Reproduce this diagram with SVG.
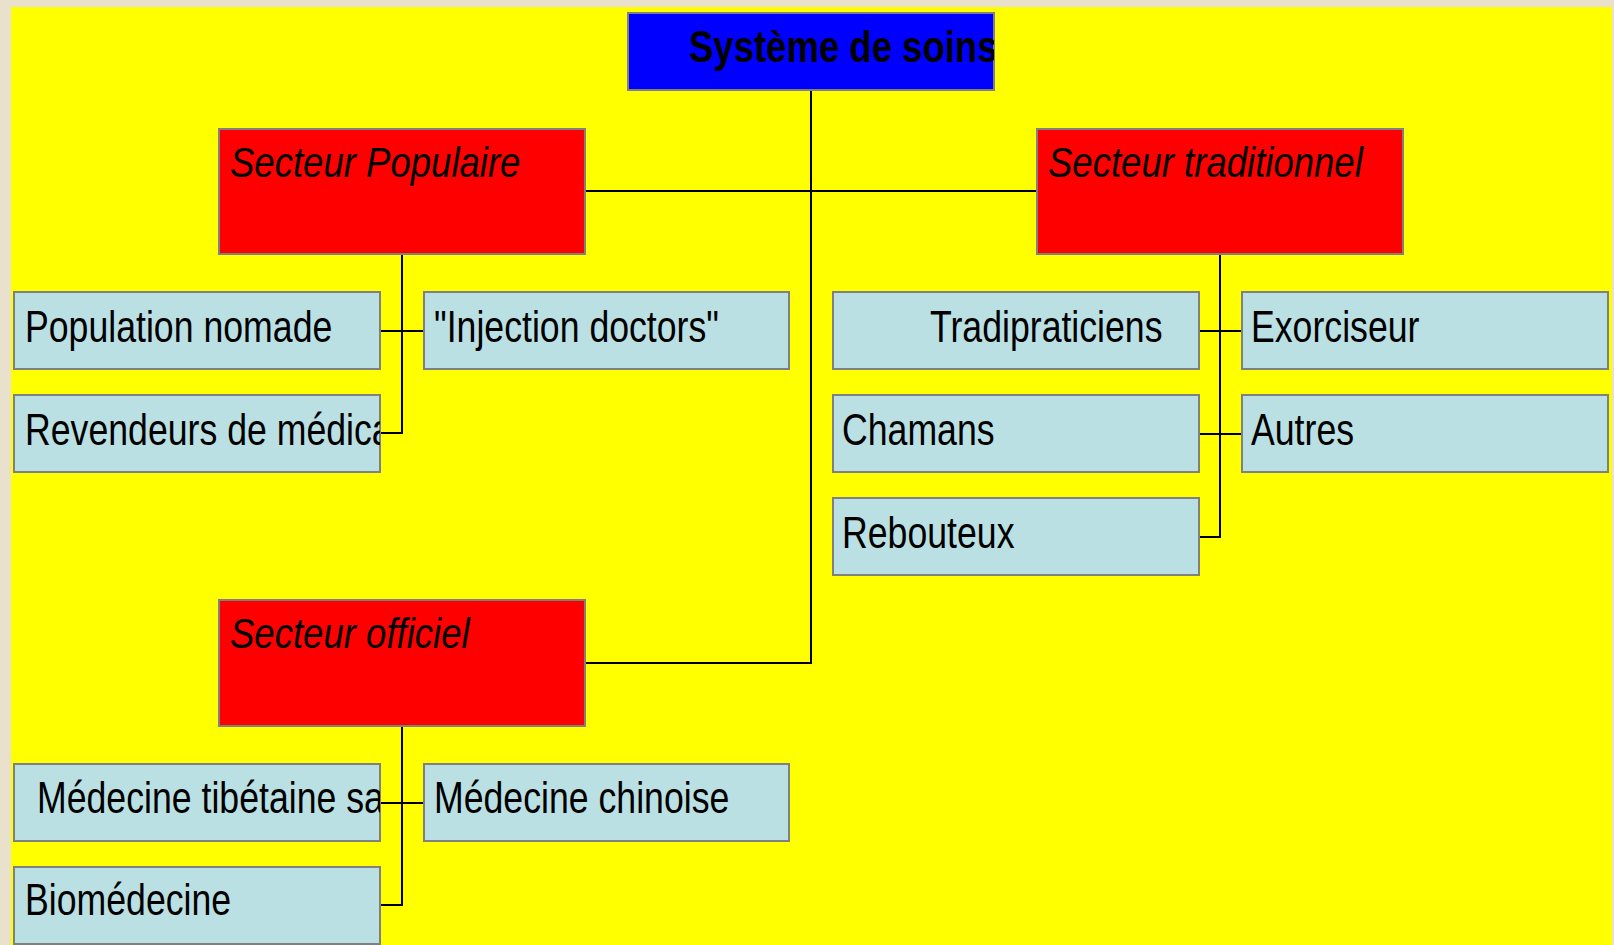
<svg xmlns="http://www.w3.org/2000/svg" width="1614" height="945" viewBox="0 0 1614 945">
<style>
.leaf{fill:#bae0e4;stroke:#808080;stroke-width:2}
.sect{fill:#ff0000;stroke:#808080;stroke-width:2}
.root{fill:#0000ff;stroke:#808080;stroke-width:2}
text{font-family:"Liberation Sans",Arial,sans-serif;fill:#000}
.lt{font-size:43.5px}
.st{font-size:43px;font-style:italic}
.rt{font-size:44px;font-weight:bold}
.con{stroke:#000;stroke-width:2;fill:none}
</style>
<defs>
<clipPath id="cRoot"><rect x="628" y="13" width="366" height="77"/></clipPath>
<clipPath id="cRev"><rect x="14" y="395" width="366" height="77"/></clipPath>
<clipPath id="cTib"><rect x="14" y="764" width="366" height="77"/></clipPath>
</defs>
<rect x="0" y="0" width="1614" height="945" fill="#e9e1cb"/>
<rect x="11" y="7" width="1601" height="938" fill="#ffff00"/>
<g id="connectors">
<polyline class="con" points="811,90 811,663 585,663"/>
<line class="con" x1="585" y1="191" x2="1037" y2="191"/>
<polyline class="con" points="402,254 402,433 380,433"/>
<line class="con" x1="380" y1="331" x2="424" y2="331"/>
<polyline class="con" points="1220,254 1220,537 1198,537"/>
<line class="con" x1="1198" y1="331" x2="1242" y2="331"/>
<line class="con" x1="1198" y1="434" x2="1242" y2="434"/>
<polyline class="con" points="402,726 402,905 380,905"/>
<line class="con" x1="380" y1="803" x2="424" y2="803"/>
</g>
<g id="root"><rect class="root" x="628" y="13" width="366" height="77"/><g clip-path="url(#cRoot)"><text class="rt" transform="translate(689 62) scale(0.83 1)">Système de soins</text></g></g>
<g id="populaire"><rect class="sect" x="219" y="129" width="366" height="125"/><text class="st" transform="translate(230 177) scale(0.85 1)">Secteur Populaire</text></g>
<g id="traditionnel"><rect class="sect" x="1037" y="129" width="366" height="125"/><text class="st" transform="translate(1048 177) scale(0.85 1)">Secteur traditionnel</text></g>
<g id="officiel"><rect class="sect" x="219" y="600" width="366" height="126"/><text class="st" transform="translate(230 648) scale(0.85 1)">Secteur officiel</text></g>
<g id="nomade"><rect class="leaf" x="14" y="292" width="366" height="77"/><text class="lt" transform="translate(25 342) scale(0.82 1)">Population nomade</text></g>
<g id="injection"><rect class="leaf" x="424" y="292" width="365" height="77"/><text class="lt" transform="translate(434 342) scale(0.82 1)">"Injection doctors"</text></g>
<g id="revendeurs"><rect class="leaf" x="14" y="395" width="366" height="77"/><g clip-path="url(#cRev)"><text class="lt" transform="translate(25 445) scale(0.82 1)">Revendeurs de médicaments</text></g></g>
<g id="tradipraticiens"><rect class="leaf" x="833" y="292" width="366" height="77"/><text class="lt" transform="translate(930 342) scale(0.82 1)">Tradipraticiens</text></g>
<g id="exorciseur"><rect class="leaf" x="1242" y="292" width="366" height="77"/><text class="lt" transform="translate(1251 342) scale(0.82 1)">Exorciseur</text></g>
<g id="chamans"><rect class="leaf" x="833" y="395" width="366" height="77"/><text class="lt" transform="translate(842 445) scale(0.82 1)">Chamans</text></g>
<g id="autres"><rect class="leaf" x="1242" y="395" width="366" height="77"/><text class="lt" transform="translate(1251 445) scale(0.82 1)">Autres</text></g>
<g id="rebouteux"><rect class="leaf" x="833" y="498" width="366" height="77"/><text class="lt" transform="translate(842 548) scale(0.82 1)">Rebouteux</text></g>
<g id="tibetaine"><rect class="leaf" x="14" y="764" width="366" height="77"/><g clip-path="url(#cTib)"><text class="lt" transform="translate(37 813) scale(0.82 1)">Médecine tibétaine sa</text></g></g>
<g id="chinoise"><rect class="leaf" x="424" y="764" width="365" height="77"/><text class="lt" transform="translate(434 813) scale(0.82 1)">Médecine chinoise</text></g>
<g id="biomedecine"><rect class="leaf" x="14" y="867" width="366" height="77"/><text class="lt" transform="translate(25 915) scale(0.82 1)">Biomédecine</text></g>
</svg>
